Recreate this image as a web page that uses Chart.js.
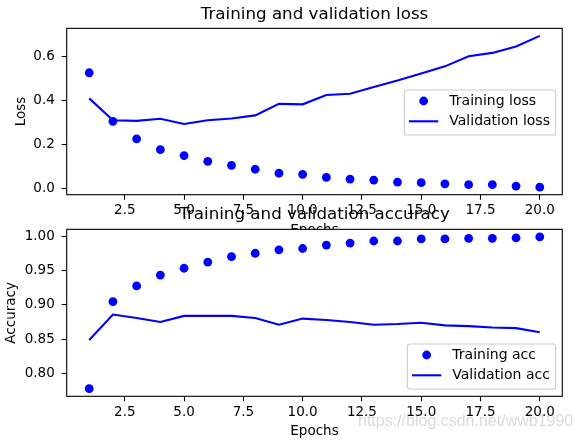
<!DOCTYPE html>
<html lang="en">
<head>
  <meta charset="UTF-8">
  <title>Training and validation</title>
  <script src="https://cdn.jsdelivr.net/npm/chart.js"></script>
  <style>
    body { margin: 0; background: #fff; }
    #wrap { position: relative; width: 582px; height: 441px; overflow: hidden; }
    #wrap canvas { position: absolute; left: 0; top: 0; }
    #mark {
      position: absolute; left: 358px; top: 412.7px;
      font: 16px "Liberation Sans", sans-serif; line-height: 16px;
      color: rgba(150, 150, 150, 0.35); white-space: nowrap;
    }
  </style>
</head>
<body>
  <div id="wrap">
    <canvas id="lossChart" width="582" height="441"></canvas>
    <canvas id="accChart" width="582" height="441"></canvas>
    <div id="mark">https://blog.csdn.net/wwb1990</div>
  </div>

  <script>
    const epochs = [1, 2, 3, 4, 5, 6, 7, 8, 9, 10, 11, 12, 13, 14, 15, 16, 17, 18, 19, 20];
    const trainLoss = [0.525, 0.305, 0.226, 0.177, 0.150, 0.124, 0.106, 0.088, 0.070, 0.065,
                       0.051, 0.043, 0.039, 0.030, 0.027, 0.022, 0.018, 0.018, 0.012, 0.007];
    const valLoss = [0.409, 0.310, 0.307, 0.317, 0.293, 0.310, 0.318, 0.332, 0.384, 0.382,
                     0.424, 0.430, 0.461, 0.490, 0.522, 0.554, 0.600, 0.615, 0.644, 0.692];
    const trainAcc = [0.777, 0.905, 0.928, 0.944, 0.954, 0.963, 0.971, 0.976, 0.981, 0.983,
                      0.988, 0.991, 0.994, 0.994, 0.997, 0.997, 0.998, 0.998, 0.9985, 1.000];
    const valAcc = [0.8485, 0.886, 0.881, 0.875, 0.884, 0.884, 0.884, 0.881, 0.871, 0.880,
                    0.878, 0.875, 0.871, 0.872, 0.874, 0.870, 0.869, 0.867, 0.866, 0.860];
    const xTicks = [2.5, 5, 7.5, 10, 12.5, 15, 17.5, 20];
    const lossTicks = [0, 0.2, 0.4, 0.6];
    const accTicks = [0.80, 0.85, 0.90, 0.95, 1.00];

    const FONT = "'DejaVu Sans', sans-serif";
    const BLUE = "#0000ff";
    const DOT = 4.4;

    // matplotlib style 5% margins around the data
    function padded(arrs) {
      const all = [].concat(...arrs);
      const lo = Math.min(...all), hi = Math.max(...all);
      const m = (hi - lo) * 0.05;
      return [lo - m, hi + m];
    }
    const xr = padded([epochs]);

    const pts = ys => epochs.map((e, i) => ({ x: e, y: ys[i] }));

    const frame = {
      id: "frame",
      beforeDraw(chart, args, opts) {
        if (!opts.fill) return;
        const a = chart.chartArea, c = chart.ctx;
        c.save();
        c.fillStyle = "#fff";
        c.fillRect(a.left, a.top, a.right - a.left, a.bottom - a.top);
        c.restore();
      },
      afterDatasetsDraw(chart) {
        const a = chart.chartArea, c = chart.ctx;
        c.save();
        c.strokeStyle = "#000";
        c.lineWidth = 1.1;
        c.strokeRect(a.left, a.top, a.right - a.left, a.bottom - a.top);
        c.restore();
      }
    };

    // legend drawn the way matplotlib does it
    const mplLegend = {
      id: "mplLegend",
      afterDatasetsDraw(chart, args, o) {
        const c = chart.ctx;
        const ds = chart.data.datasets;
        c.save();
        c.beginPath();
        c.roundRect(o.x, o.y, o.w, o.h, 2.8);
        c.fillStyle = "rgba(255,255,255,0.8)";
        c.fill();
        c.strokeStyle = "#cccccc";
        c.lineWidth = 1.1;
        c.stroke();
        c.font = "14px " + FONT;
        c.textBaseline = "middle";
        c.fillStyle = "#000";
        const hx = o.x + 4.7, hw = 29.3;
        ds.forEach((d, i) => {
          const y = o.y + 11 + i * 20.3;
          if (d.showLine === false) {
            c.beginPath();
            c.arc(hx + hw / 2, y, DOT, 0, Math.PI * 2);
            c.fillStyle = BLUE;
            c.fill();
          } else {
            c.beginPath();
            c.moveTo(hx, y);
            c.lineTo(hx + hw, y);
            c.strokeStyle = BLUE;
            c.lineWidth = 2.1;
            c.stroke();
          }
          c.fillStyle = "#000";
          c.fillText(d.label, hx + hw + 11, y);
        });
        c.restore();
      }
    };

    function makeChart(id, cfg) {
      const yr = padded([cfg.train, cfg.val]);
      return new Chart(document.getElementById(id), {
        type: "line",
        data: {
          datasets: [
            {
              label: cfg.names[0], data: pts(cfg.train), showLine: false,
              pointRadius: DOT, pointBackgroundColor: BLUE, pointBorderWidth: 0
            },
            {
              label: cfg.names[1], data: pts(cfg.val), borderColor: BLUE,
              borderWidth: 2.1, pointRadius: 0, tension: 0, fill: false
            }
          ]
        },
        options: {
          responsive: false,
          animation: false,
          events: [],
          layout: { padding: { left: 0, right: 19.7, top: cfg.padTop, bottom: cfg.padBottom } },
          plugins: {
            legend: { display: false },
            tooltip: { enabled: false },
            title: {
              display: true, text: cfg.title, color: "#000", fullSize: false,
              font: { family: FONT, size: 16.7, weight: "normal", lineHeight: 1.2 },
              padding: { top: cfg.titleTop, bottom: cfg.titleBottom }
            },
            frame: { fill: cfg.fill },
            mplLegend: cfg.legend
          },
          scales: {
            x: {
              type: "linear", min: xr[0], max: xr[1],
              afterBuildTicks: s => { s.ticks = xTicks.map(v => ({ value: v })); },
              afterFit: s => { s.height = 44.7; },
              ticks: {
                color: "#000", padding: 2.6, maxRotation: 0, autoSkip: false,
                font: { family: FONT, size: 13.5 },
                callback: v => v.toFixed(1)
              },
              grid: { drawOnChartArea: false, tickLength: 5, tickWidth: 1.1, tickColor: "#000" },
              border: { display: false },
              title: {
                display: true, text: "Epochs", color: "#000",
                font: { family: FONT, size: 13.5 }, padding: { top: 0, bottom: 1.0 }
              }
            },
            y: {
              type: "linear", min: yr[0], max: yr[1],
              afterBuildTicks: s => { s.ticks = cfg.yTicks.map(v => ({ value: v })); },
              afterFit: s => { s.width = 66.7; },
              ticks: {
                color: "#000", padding: 6.9, autoSkip: false,
                font: { family: FONT, size: 13.5 },
                callback: v => v.toFixed(cfg.digits)
              },
              grid: { drawOnChartArea: false, tickLength: 5, tickWidth: 1.1, tickColor: "#000" },
              border: { display: false },
              title: {
                display: true, text: cfg.yLabel, color: "#000",
                font: { family: FONT, size: 13.5 }, padding: { top: cfg.yTitlePad, bottom: 0 }
              }
            }
          }
        },
        plugins: [frame, mplLegend]
      });
    }

    makeChart("lossChart", {
      title: "Training and validation loss",
      yLabel: "Loss",
      names: ["Training loss", "Validation loss"],
      train: trainLoss, val: valLoss,
      yTicks: lossTicks, digits: 1,
      padTop: 0, padBottom: 201.6, titleTop: 4.2, titleBottom: 4.1,
      yTitlePad: 12.9, fill: false,
      legend: { x: 404.3, y: 90, w: 151.4, h: 45 }
    });

    makeChart("accChart", {
      title: "Training and validation accuracy",
      yLabel: "Accuracy",
      names: ["Training acc", "Validation acc"],
      train: trainAcc, val: valAcc,
      yTicks: accTicks, digits: 2,
      padTop: 200.2, padBottom: 0, titleTop: 4, titleBottom: 5.1,
      yTitlePad: 3.8, fill: true,
      legend: { x: 407.3, y: 344, w: 148.4, h: 45 }
    });
  </script>
</body>
</html>
